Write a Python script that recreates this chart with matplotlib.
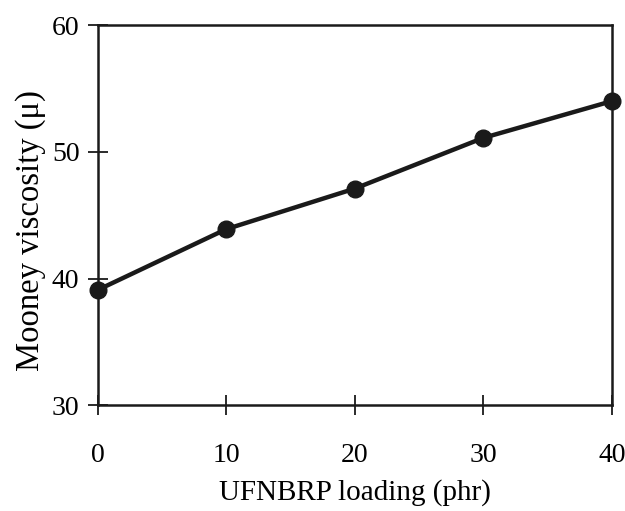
import matplotlib.pyplot as plt

loading = [0, 10, 20, 30, 40]
viscosity = [39.1, 43.9, 47.1, 51.1, 54.0]
x_ticks = [0, 10, 20, 30, 40]
y_ticks = [30, 40, 50, 60]

plt.rcParams['font.family'] = 'Liberation Serif'

fig = plt.figure(figsize=(6.25, 5.11), dpi=100)
ax = fig.add_axes([0.156, 0.2065, 0.823, 0.7445])

ax.plot(loading, viscosity, color='#1a1a1a', linewidth=3.2, marker='o',
        markersize=12, clip_on=False, zorder=3)

ax.set_xlim(0, 40)
ax.set_ylim(30, 60)
ax.set_xticks(x_ticks)
ax.set_yticks(y_ticks)
ax.tick_params(direction='inout', length=14, width=1.3, labelsize=20,
               color='#1a1a1a')
ax.tick_params(axis='y', pad=6)
ax.tick_params(axis='x', pad=20)
for s in ax.spines.values():
    s.set_linewidth(1.8)
    s.set_color('#1a1a1a')

ax.set_xlabel('UFNBRP loading (phr)', fontsize=21, va='center')
ax.xaxis.set_label_coords(0.5, -0.23)
ax.set_ylabel('Mooney viscosity (μ)', fontsize=23.5, va='center')
ax.yaxis.set_label_coords(-0.131, 0.4586)

fig.savefig('out.png', dpi=100)
